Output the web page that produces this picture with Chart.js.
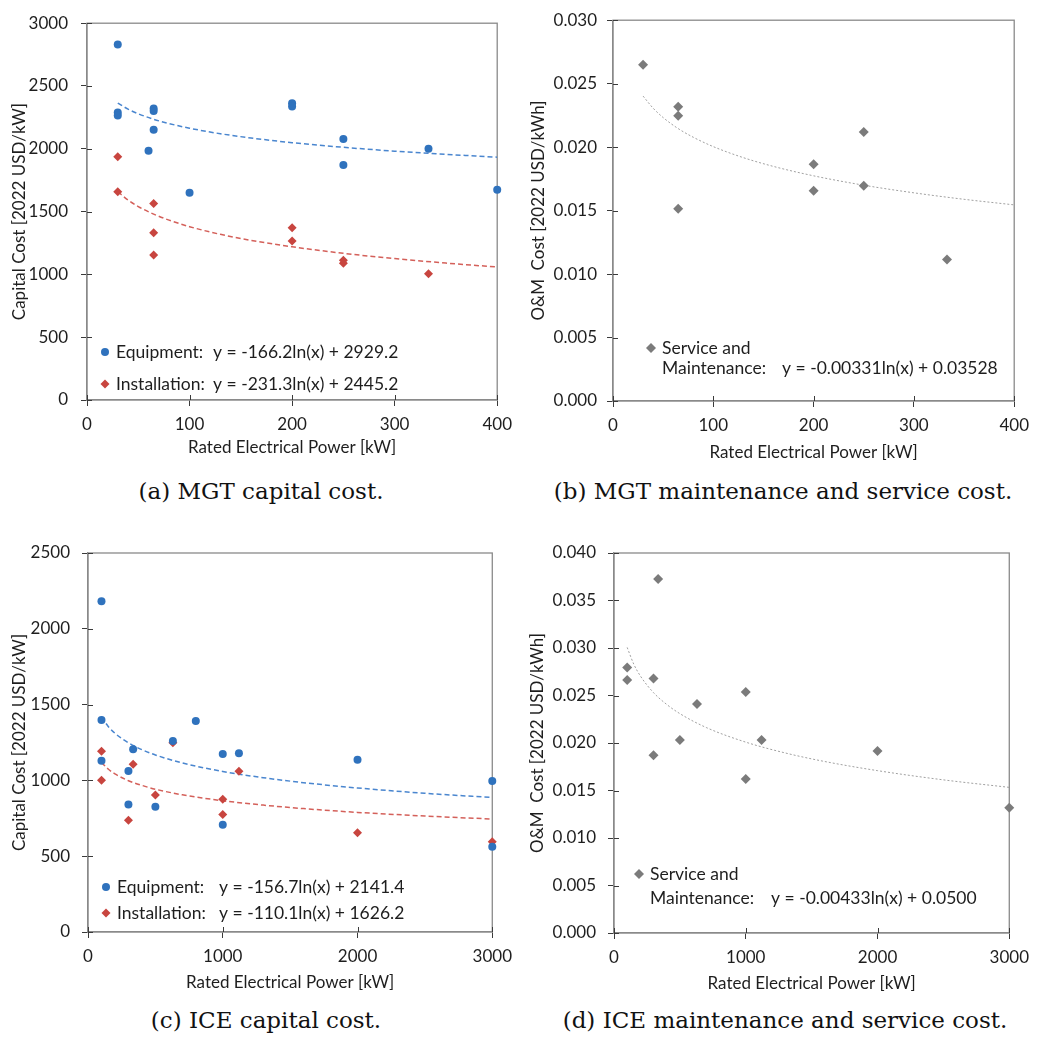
<!DOCTYPE html>
<html><head><meta charset="utf-8">
<script src="https://cdn.jsdelivr.net/npm/chart.js@4"></script>
<style>
html,body{margin:0;padding:0;background:#fff;width:1037px;height:1040px;overflow:hidden;}
.p{position:absolute;}
.cap{position:absolute;font-family:"DejaVu Serif";font-size:23px;color:#111;white-space:nowrap;transform:translateX(-50%);line-height:1;}
</style></head><body>
<div class="p" style="left:0;top:0;"><canvas id="ca" width="520" height="470"></canvas></div>
<div class="p" style="left:520px;top:0;"><canvas id="cb" width="517" height="470"></canvas></div>
<div class="p" style="left:0;top:520px;"><canvas id="cc" width="520" height="480"></canvas></div>
<div class="p" style="left:520px;top:520px;"><canvas id="cd" width="517" height="480"></canvas></div>
<div class="cap" style="left:261px;top:480px;">(a) MGT capital cost.</div>
<div class="cap" style="left:783px;top:480px;">(b) MGT maintenance and service cost.</div>
<div class="cap" style="left:266px;top:1009px;">(c) ICE capital cost.</div>
<div class="cap" style="left:785px;top:1009px;">(d) ICE maintenance and service cost.</div>
<script>
// ---------- DATA ----------
// (a) MGT capital cost
const aEquipX = [30,30,30,65,65,65,60,100,200,200,250,250,333,400];
const aEquipY = [2830,2290,2265,2320,2300,2151,1984,1651,2362,2336,2078,1872,2000,1674];
const aInstX  = [30,30,65,65,65,200,200,250,250,333];
const aInstY  = [1937,1659,1565,1331,1154,1372,1266,1112,1089,1005];
const mgtFitX = [30,40,50,65,80,100,130,160,200,250,300,350,400];
const aEquipFitY = [2364,2316,2279,2235,2201,2164,2120,2086,2049,2012,1981,1956,1933];
const aInstFitY  = [1659,1592,1540,1480,1432,1380,1319,1271,1220,1168,1126,1090,1059];
const aXTicks = ['0','100','200','300','400'];
const aYTicks = ['0','500','1000','1500','2000','2500','3000'];

// (b) MGT O&M cost
const bX = [30,65,65,65,200,200,250,250,333];
const bY = [0.02649,0.02319,0.02247,0.01514,0.01865,0.01657,0.02119,0.01696,0.01114];
const bFitY = [0.02402,0.02307,0.02233,0.02146,0.02078,0.02004,0.01917,0.01848,0.01774,0.01700,0.01640,0.01589,0.01545];
const bXTicks = ['0','100','200','300','400'];
const bYTicks = ['0.000','0.005','0.010','0.015','0.020','0.025','0.030'];

// (c) ICE capital cost
const cEquipX = [100,100,100,300,300,335,500,630,800,1000,1000,1120,2000,3000,3000];
const cEquipY = [2182,1398,1130,1062,841,1205,827,1260,1392,1174,707,1179,1137,996,562];
const cInstX  = [100,100,300,335,500,630,1000,1000,1120,2000,3000];
const cInstY  = [1192,1001,737,1106,904,1249,876,775,1060,654,595];
const iceFitX = [100,150,200,300,400,500,700,1000,1300,1600,2000,2500,3000];
const cEquipFitY = [1420,1356,1311,1248,1203,1168,1115,1059,1018,985,950,915,887];
const cInstFitY  = [1119,1075,1043,998,967,942,905,866,837,814,789,765,745];
const cXTicks = ['0','1000','2000','3000'];
const cYTicks = ['0','500','1000','1500','2000','2500'];

// (d) ICE O&M cost
const dX = [100,100,300,300,335,500,630,1000,1000,1120,2000,3000];
const dY = [0.02794,0.02664,0.02678,0.01870,0.03726,0.02032,0.02411,0.02538,0.01620,0.02032,0.01916,0.01318];
const dFitY = [0.03006,0.02830,0.02706,0.02530,0.02406,0.02309,0.02163,0.02009,0.01895,0.01805,0.01709,0.01612,0.01533];
const dXTicks = ['0','1000','2000','3000'];
const dYTicks = ['0.000','0.005','0.010','0.015','0.020','0.025','0.030','0.035','0.040'];

// ---------- STYLE ----------
const BLUE = '#2f72bd', RED = '#c8453f', GRAY = '#7b7b7b';
const TXT = '#1e1e1e', AXIS = '#8a8a8a', TICK = '#3a3a3a';
const FONT = 'Lato';

const pts = (xs, ys) => xs.map((x, i) => ({x, y: ys[i]}));

const framePlugin = {
  id: 'frame',
  beforeDatasetsDraw(chart) {
    const {ctx, chartArea: a} = chart;
    ctx.save();
    ctx.strokeStyle = AXIS; ctx.lineWidth = 1.3;
    ctx.strokeRect(a.left, a.top, a.right - a.left, a.bottom - a.top);
    ctx.strokeStyle = TICK; ctx.lineWidth = 1;
    const xs = chart.scales.x, ys = chart.scales.y;
    xs.ticks.forEach(t => {
      const p = Math.round(xs.getPixelForValue(t.value)) + 0.5;
      ctx.beginPath(); ctx.moveTo(p, a.bottom); ctx.lineTo(p, a.bottom - 5); ctx.stroke();
    });
    ys.ticks.forEach(t => {
      const p = Math.round(ys.getPixelForValue(t.value)) + 0.5;
      ctx.beginPath(); ctx.moveTo(a.left, p); ctx.lineTo(a.left + 5, p); ctx.stroke();
    });
    ctx.restore();
  }
};

const legendPlugin = {
  id: 'eqLegend',
  afterDraw(chart, args, opts) {
    const {ctx, chartArea: a} = chart;
    ctx.save();
    ctx.font = opts.size + 'px ' + FONT;
    ctx.fillStyle = TXT;
    ctx.textBaseline = 'middle';
    opts.rows.forEach(r => {
      const y = a.bottom - r.dy;
      if (r.ds !== undefined) {
        const ds = chart.data.datasets[r.ds];
        ctx.fillStyle = ds.backgroundColor;
        Chart.helpers.drawPoint(ctx, {pointStyle: ds.pointStyle, radius: ds.pointRadius, rotation: 0, borderWidth: 0}, a.left + r.mx, y);
        ctx.fillStyle = TXT;
      }
      r.texts.forEach(t => ctx.fillText(t[1], a.left + t[0], y));
    });
    ctx.restore();
  }
};

function tickAxis(labels, opts) {
  return Object.assign({
    type: 'linear',
    min: parseFloat(labels[0]), max: parseFloat(labels[labels.length - 1]),
    afterBuildTicks: s => { s.ticks = labels.map(l => ({value: parseFloat(l)})); },
    ticks: {callback: (v, i) => labels[i], color: TXT, font: {family: FONT, size: 17}, autoSkip: false, maxRotation: 0},
    grid: {drawOnChartArea: false, drawTicks: true, tickLength: 6, color: TICK},
    border: {display: true, color: AXIS, width: 1.3}
  }, opts);
}

function makeChart(id, cfg) {
  const yAxis = tickAxis(cfg.yTicks, {
    title: {display: true, text: cfg.yTitle, color: TXT, font: {family: FONT, size: 17}, padding: {top: cfg.yTitlePad, bottom: 0}},
    afterFit: s => { s.width = cfg.yWidth; }
  });
  yAxis.ticks.padding = cfg.yTickPad;
  const xAxis = tickAxis(cfg.xTicks, {
    title: {display: true, text: 'Rated Electrical Power [kW]', color: TXT, font: {family: FONT, size: 17}, padding: {top: 0, bottom: cfg.xTitlePad}},
    afterFit: s => { s.height = cfg.xHeight; }
  });
  xAxis.ticks.padding = 8;
  return new Chart(document.getElementById(id), {
    type: 'scatter',
    data: {datasets: cfg.datasets},
    options: {
      responsive: false, animation: false, events: [],
      layout: {padding: {left: 0, top: cfg.top, right: cfg.right, bottom: 0}},
      scales: {x: xAxis, y: yAxis},
      plugins: {legend: {display: false}, tooltip: {enabled: false}, eqLegend: {size: 17.5, rows: cfg.legend}}
    },
    plugins: [framePlugin, legendPlugin]
  });
}

function scatterDs(label, xs, ys, color, style, r) {
  return {label, data: pts(xs, ys), backgroundColor: color, borderColor: color, pointStyle: style,
    pointRadius: r, pointBorderWidth: 0, showLine: false, clip: false, order: 1};
}
function fitDs(label, xs, ys, color, dash, w) {
  return {type: 'line', label, data: pts(xs, ys), borderColor: color, borderWidth: w, borderDash: dash,
    pointRadius: 0, fill: false, cubicInterpolationMode: 'monotone', order: 2};
}

makeChart('ca', {
  top: 16, right: 22, yWidth: 87, xHeight: 70, yTitlePad: 9, xTitlePad: 12, yTickPad: 13,
  xTicks: aXTicks, yTicks: aYTicks, yTitle: 'Capital Cost [2022 USD/kW]',
  datasets: [
    scatterDs('Equipment', aEquipX, aEquipY, BLUE, 'circle', 4),
    scatterDs('Installation', aInstX, aInstY, RED, 'rectRot', 4.5),
    fitDs('Equipment fit', mgtFitX, aEquipFitY, '#4a86cf', [5, 3], 1.5),
    fitDs('Installation fit', mgtFitX, aInstFitY, '#d4605a', [5, 3], 1.5)
  ],
  legend: [
    {ds: 0, mx: 18, dy: 48, texts: [[29, 'Equipment:'], [126, 'y = -166.2ln(x) + 2929.2']]},
    {ds: 1, mx: 18, dy: 16, texts: [[29, 'Installation:'], [126, 'y = -231.3ln(x) + 2445.2']]}
  ]
});

makeChart('cb', {
  top: 16, right: 19, yWidth: 93, xHeight: 69, yTitlePad: 8, xTitlePad: 7, yTickPad: 10,
  xTicks: bXTicks, yTicks: bYTicks, yTitle: 'O&M  Cost [2022 USD/kWh]',
  datasets: [
    scatterDs('Service and Maintenance', bX, bY, GRAY, 'rectRot', 5),
    fitDs('Service fit', mgtFitX, bFitY, '#a0a0a0', [2, 2], 1)
  ],
  legend: [
    {ds: 0, mx: 38, dy: 53, texts: [[49, 'Service and']]},
    {mx: 0, dy: 33, texts: [[49, 'Maintenance:'], [169, 'y = -0.00331ln(x) + 0.03528']]}
  ]
});

makeChart('cc', {
  top: 33, right: 24, yWidth: 88, xHeight: 68, yTitlePad: 9, xTitlePad: 7, yTickPad: 12,
  xTicks: cXTicks, yTicks: cYTicks, yTitle: 'Capital Cost [2022 USD/kW]',
  datasets: [
    scatterDs('Equipment', cEquipX, cEquipY, BLUE, 'circle', 4),
    scatterDs('Installation', cInstX, cInstY, RED, 'rectRot', 4.5),
    fitDs('Equipment fit', iceFitX, cEquipFitY, '#4a86cf', [5, 3], 1.5),
    fitDs('Installation fit', iceFitX, cInstFitY, '#d4605a', [5, 3], 1.5)
  ],
  legend: [
    {ds: 0, mx: 18, dy: 45, texts: [[29, 'Equipment:'], [131, 'y = -156.7ln(x) + 2141.4']]},
    {ds: 1, mx: 18, dy: 19, texts: [[29, 'Installation:'], [131, 'y = -110.1ln(x) + 1626.2']]}
  ]
});

makeChart('cd', {
  top: 33, right: 23, yWidth: 94, xHeight: 67, yTitlePad: 7, xTitlePad: 6, yTickPad: 12,
  xTicks: dXTicks, yTicks: dYTicks, yTitle: 'O&M  Cost [2022 USD/kWh]',
  datasets: [
    scatterDs('Service and Maintenance', dX, dY, GRAY, 'rectRot', 5),
    fitDs('Service fit', iceFitX, dFitY, '#a0a0a0', [2, 2], 1)
  ],
  legend: [
    {ds: 0, mx: 25, dy: 59, texts: [[36, 'Service and']]},
    {mx: 0, dy: 35, texts: [[36, 'Maintenance:'], [157, 'y = -0.00433ln(x) + 0.0500']]}
  ]
});
</script>
</body></html>
